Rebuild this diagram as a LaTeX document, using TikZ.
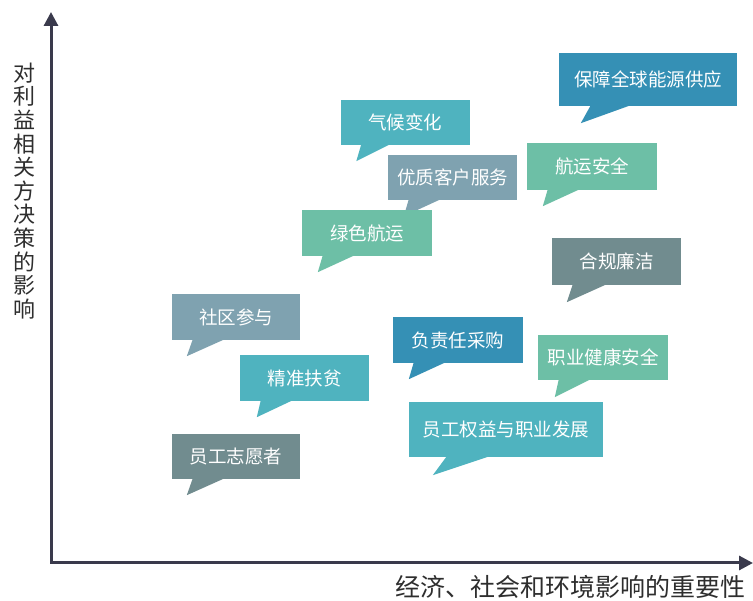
\documentclass[tikz,border=0pt]{standalone}
\usepackage{fontspec}
\setmainfont{Noto Sans CJK SC}
\usetikzlibrary{calc,arrows.meta}
\definecolor{cblue}{HTML}{3590B5}
\definecolor{cteal}{HTML}{4FB3BF}
\definecolor{cgrayblue}{HTML}{7FA2B0}
\definecolor{cgreen}{HTML}{6DBFA6}
\definecolor{cdark}{HTML}{718C8F}
\definecolor{axiscol}{HTML}{3A3A4C}
\definecolor{labcol}{HTML}{2E2E2E}
\tikzset{
  bub/.style={fill=#1, text=white, inner sep=0pt, minimum width=129pt, minimum height=46pt,
    font=\fontsize{18.5}{20}\selectfont},
  axisline/.style={draw=axiscol, line width=3pt, {Triangle[length=14pt,width=14pt]}-{Triangle[length=14pt,width=14pt]}},
  ylab/.style={align=center, text=labcol, inner sep=0pt, font=\fontsize{22}{23.6}\selectfont},
  xlab/.style={text=labcol, inner sep=0pt, font=\fontsize{25}{27}\selectfont},
}
% name, colour, base left, base right, tip x offset, tip depth
\newcommand\btail[6]{\fill[#2] ($(#1.south west)+(#3,-1)$) -- ($(#1.south west)+(#5,#6)$) -- ($(#1.south west)+(#4,-1)$) -- cycle;}
\begin{document}
\begin{tikzpicture}[x=1pt,y=-1pt]
\useasboundingbox (0,0) rectangle (753,601);
\fill[white] (0,0) rectangle (753,601);

% axes
\coordinate (O) at (51,563);
\coordinate (ytip) at (51,12);
\coordinate (xtip) at (753,563);
\draw[axisline] (ytip) -- (O) -- (xtip);
\node[ylab] (ylabel) at (24.5,191) {对\\利\\益\\相\\关\\方\\决\\策\\的\\影\\响};
\node[xlab] (xlabel) at (570,587) {经济、社会和环境影响的重要性};

% bubbles
\node[bub=cblue, minimum width=178pt, minimum height=53pt] (b1) at (648,79.5) {保障全球能源供应};
\btail{b1}{cblue}{32}{72}{22}{17}

\node[bub=cteal, minimum height=45pt] (b2) at (405,122.5) {气候变化};
\btail{b2}{cteal}{21}{50}{16}{16}

\node[bub=cgrayblue, minimum height=45pt] (b3) at (452.5,177.5) {优质客户服务};
\btail{b3}{cgrayblue}{21}{53}{16}{16}

\node[bub=cgreen, minimum width=130pt, minimum height=47pt] (b4) at (592,166.5) {航运安全};
\btail{b4}{cgreen}{21}{53}{16}{16}

\node[bub=cgreen, minimum width=130pt] (b5) at (367,233) {绿色航运};
\btail{b5}{cgreen}{21}{53}{16}{16}

\node[bub=cdark, minimum height=47pt] (b6) at (616.5,261.5) {合规廉洁};
\btail{b6}{cdark}{21}{55}{15}{17}

\node[bub=cgrayblue, minimum width=128pt] (b7) at (236,317) {社区参与};
\btail{b7}{cgrayblue}{21}{53}{15}{16}

\node[bub=cteal] (b8) at (304.5,378) {精准扶贫};
\btail{b8}{cteal}{21}{53}{17}{16}

\node[bub=cblue, minimum width=130pt] (b9) at (458,340) {负责任采购};
\btail{b9}{cblue}{21}{53}{16}{16}

\node[bub=cgreen, minimum width=130pt, minimum height=45pt] (b10) at (603,357.5) {职业健康安全};
\btail{b10}{cgreen}{21}{53}{17}{17}

\node[bub=cteal, minimum width=194pt, minimum height=55pt] (b11) at (506,429.5) {员工权益与职业发展};
\btail{b11}{cteal}{38}{81}{24}{18}

\node[bub=cdark, minimum width=128pt, minimum height=45pt] (b12) at (236,456.5) {员工志愿者};
\btail{b12}{cdark}{21}{53}{15}{16}
\end{tikzpicture}
\end{document}
